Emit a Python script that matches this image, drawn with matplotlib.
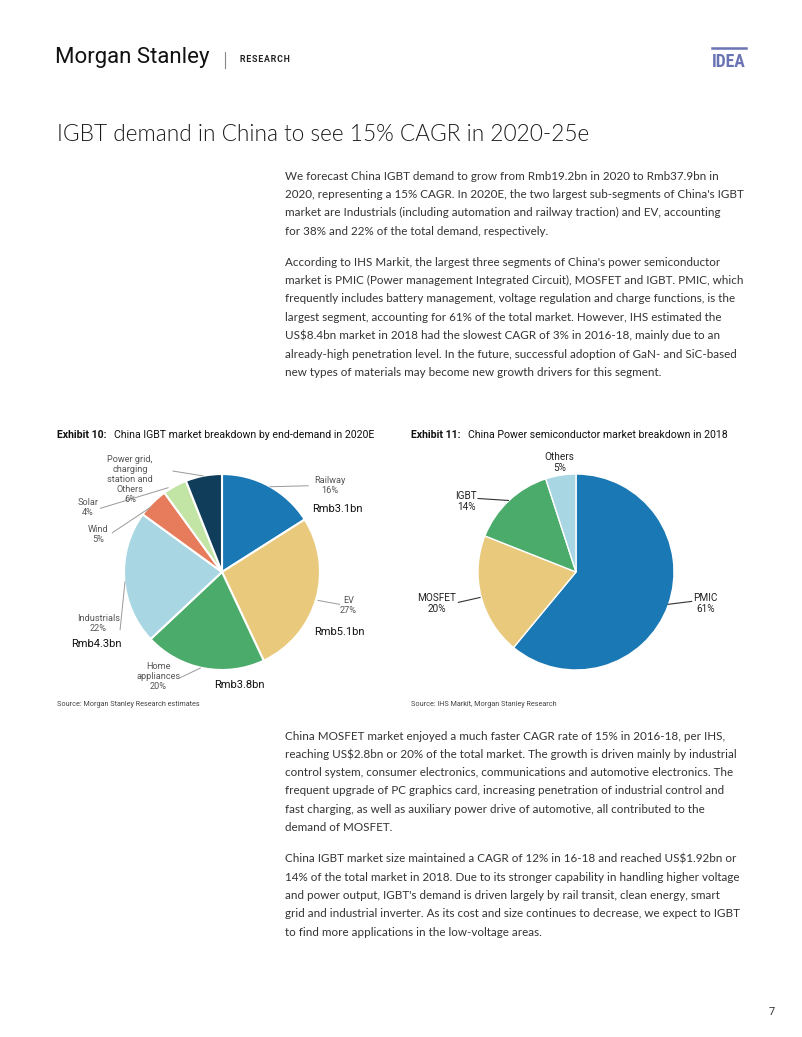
import matplotlib.pyplot as plt
from matplotlib.lines import Line2D

W, H = 802, 1037

# exhibit 10: China IGBT market by end-demand, 2020E (clockwise from 12 o'clock)
igbt_segments = ["Railway", "EV", "Home\nappliances", "Industrials", "Wind", "Solar",
                 "Power grid,\ncharging\nstation and\nOthers"]
igbt_share = [16, 27, 20, 22, 5, 4, 6]
igbt_rmb = {"Railway": "Rmb3.1bn", "EV": "Rmb5.1bn", "Home\nappliances": "Rmb3.8bn",
            "Industrials": "Rmb4.3bn"}
igbt_colors = ["#1a78b4", "#e9c97c", "#4bab6a", "#a9d6e3", "#e67c5c", "#c2e4a4", "#0f3d5a"]

# exhibit 11: China power semiconductor market, 2018
psemi_segments = ["PMIC", "MOSFET", "IGBT", "Others"]
psemi_share = [61, 20, 14, 5]
psemi_colors = ["#1a78b4", "#e9c97c", "#4bab6a", "#a9d6e3"]

para1 = [
    "We forecast China IGBT demand to grow from Rmb19.2bn in 2020 to Rmb37.9bn in",
    "2020, representing a 15% CAGR. In 2020E, the two largest sub-segments of China's IGBT",
    "market are Industrials (including automation and railway traction) and EV, accounting",
    "for 38% and 22% of the total demand, respectively.",
]
para2 = [
    "According to IHS Markit, the largest three segments of China's power semiconductor",
    "market is PMIC (Power management Integrated Circuit), MOSFET and IGBT. PMIC, which",
    "frequently includes battery management, voltage regulation and charge functions, is the",
    "largest segment, accounting for 61% of the total market. However, IHS estimated the",
    "US$8.4bn market in 2018 had the slowest CAGR of 3% in 2016-18, mainly due to an",
    "already-high penetration level. In the future, successful adoption of GaN- and SiC-based",
    "new types of materials may become new growth drivers for this segment.",
]
para3 = [
    "China MOSFET market enjoyed a much faster CAGR rate of 15% in 2016-18, per IHS,",
    "reaching US$2.8bn or 20% of the total market. The growth is driven mainly by industrial",
    "control system, consumer electronics, communications and automotive electronics. The",
    "frequent upgrade of PC graphics card, increasing penetration of industrial control and",
    "fast charging, as well as auxiliary power drive of automotive, all contributed to the",
    "demand of MOSFET.",
]
para4 = [
    "China IGBT market size maintained a CAGR of 12% in 16-18 and reached US$1.92bn or",
    "14% of the total market in 2018. Due to its stronger capability in handling higher voltage",
    "and power output, IGBT's demand is driven largely by rail transit, clean energy, smart",
    "grid and industrial inverter. As its cost and size continues to decrease, we expect to IGBT",
    "to find more applications in the low-voltage areas.",
]

plt.rcParams['font.family'] = ['Roboto', 'DejaVu Sans']
fig = plt.figure(figsize=(W / 100, H / 100), dpi=100)
renderer = fig.canvas.get_renderer()


def fx(x):
    return x / W


def fy(y):
    return 1 - y / H


def ftext(x, y, s, **kw):
    kw.setdefault('va', 'center')
    return fig.text(fx(x), fy(y), s, **kw)


def fit(t, width_px):
    # scale font size so the text spans width_px
    w = t.get_window_extent(renderer).width
    t.set_fontsize(t.get_fontsize() * width_px / w)
    return t.get_fontsize()


# header
fit(ftext(55, 58, "Morgan Stanley", fontsize=15, color="#111111"), 155)
fig.add_artist(Line2D([fx(225), fx(225)], [fy(52), fy(68)], color="#888888", lw=0.8))
fit(ftext(240, 59, "R E S E A R C H".replace(" ", "\u200a"), fontsize=6.8,
          fontweight="bold", color="#222222"), 51)
fig.add_artist(Line2D([fx(712), fx(746)], [fy(48), fy(48)], color="#6a74b4", lw=1.8))
fit(ftext(712, 62, "IDEA", fontsize=11, fontweight="bold", color="#6a74b4",
          family=["Roboto Condensed", "Roboto"]), 34)

fit(ftext(57, 134, "IGBT demand in China to see 15% CAGR in 2020-25e", fontsize=17,
          fontweight=300, color="#1a1a1a", family=["Lato", "Roboto"]), 533)

body = dict(fontsize=8.45, color="#333333", family=["Lato", "DejaVu Sans"])
bsize = fit(ftext(285, 176, para1[0], **body), 433)
body["fontsize"] = bsize
for i, line in enumerate(para1[1:], 1):
    ftext(285, 176 + i * 18.4, line, **body)
for i, line in enumerate(para2):
    ftext(285, 262 + i * 18.4, line, **body)
for i, line in enumerate(para3):
    ftext(285, 736 + i * 18.3, line, **body)
for i, line in enumerate(para4):
    ftext(285, 859 + i * 18.3, line, **body)

# exhibit titles
ftext(57, 435, "Exhibit 10:", fontsize=7.6, fontweight="bold", color="#111111")
ftext(114, 435, "China IGBT market breakdown by end-demand in 2020E", fontsize=7.6, color="#111111")
ftext(411, 435, "Exhibit 11:", fontsize=7.6, fontweight="bold", color="#111111")
ftext(468, 435, "China Power semiconductor market breakdown in 2018", fontsize=7.6, color="#111111")
ftext(57, 705, "Source: Morgan Stanley Research estimates", fontsize=5.2, color="#444444")
ftext(411, 705, "Source: IHS Markit, Morgan Stanley Research", fontsize=5.2, color="#444444")
ftext(772, 1012, "7", fontsize=8, color="#333333", ha="center")


def pie_axes(cx, cy, r):
    ax = fig.add_axes([fx(cx - r), fy(cy + r), 2 * r / W, 2 * r / H])
    ax.axis("off")
    return ax


# exhibit 10 pie
ax1 = pie_axes(222, 572, 98)
ax1.pie(igbt_share, colors=igbt_colors, startangle=90, counterclock=False, radius=1,
        wedgeprops=dict(edgecolor="white", linewidth=1.5))
ax1.set_xlim(-1, 1)
ax1.set_ylim(-1, 1)

# label centre, leader start, leader end on wedge
lab1 = {
    "Railway": ((1.10, 0.88), (0.88, 0.88), (0.49, 0.87)),
    "EV": ((1.29, -0.34), (1.20, -0.33), (0.98, -0.29)),
    "Home\nappliances": ((-0.65, -1.07), (-0.43, -1.08), (-0.22, -0.98)),
    "Industrials": ((-1.26, -0.53), (-1.04, -0.59), (-0.99, -0.10)),
    "Wind": ((-1.26, 0.38), (-1.12, 0.40), (-0.73, 0.66)),
    "Solar": ((-1.37, 0.66), (-1.24, 0.65), (-0.55, 0.86)),
    "Power grid,\ncharging\nstation and\nOthers": ((-0.94, 0.94), (-0.50, 1.03), (-0.19, 0.98)),
}
rmb_pos = {"Railway": (1.18, 0.64), "EV": (1.20, -0.61), "Home\nappliances": (0.18, -1.15),
           "Industrials": (-1.28, -0.73)}
for name, share in zip(igbt_segments, igbt_share):
    (tx, ty), (lx, ly), (ex, ey) = lab1[name]
    ax1.plot([lx, ex], [ly, ey], color="#999999", lw=0.7, clip_on=False)
    ax1.text(tx, ty, f"{name}\n{share}%", ha="center", va="center", fontsize=6.6,
             color="#555555", linespacing=1.15, clip_on=False)
    if name in igbt_rmb:
        rx, ry = rmb_pos[name]
        ax1.text(rx, ry, igbt_rmb[name], ha="center", va="center", fontsize=8,
                 color="#111111", clip_on=False)

# exhibit 11 pie
ax2 = pie_axes(576, 572, 98)
ax2.pie(psemi_share, colors=psemi_colors, startangle=90, counterclock=False, radius=1,
        wedgeprops=dict(edgecolor="white", linewidth=1.0))
ax2.set_xlim(-1, 1)
ax2.set_ylim(-1, 1)

lab2 = {
    "PMIC": ((1.32, -0.32), (1.18, -0.30), (0.94, -0.33)),
    "MOSFET": ((-1.42, -0.32), (-1.20, -0.31), (-0.98, -0.26)),
    "IGBT": ((-1.12, 0.72), (-1.00, 0.75), (-0.69, 0.73)),
    "Others": ((-0.17, 1.12), None, None),
}
for name, share in zip(psemi_segments, psemi_share):
    (tx, ty), lstart, lend = lab2[name]
    if lstart is not None:
        ax2.plot([lstart[0], lend[0]], [lstart[1], lend[1]], color="#333333", lw=0.8, clip_on=False)
    ax2.text(tx, ty, f"{name}\n{share}%", ha="center", va="center", fontsize=7.2,
             color="#222222", linespacing=1.1, clip_on=False)

fig.savefig("out.png", dpi=100)
